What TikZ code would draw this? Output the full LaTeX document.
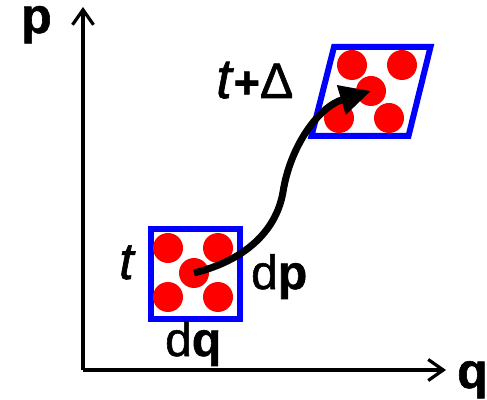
\documentclass[tikz,border=0pt]{standalone}
\usepackage{fontspec}
\setmainfont{Liberation Sans}
\newfontfamily\heavy{Liberation Sans}[FakeBold=1.2,BoldFeatures={FakeBold=1.2},ItalicFeatures={FakeBold=1.2}]
\usetikzlibrary{arrows.meta}
\definecolor{boxblue}{RGB}{0,0,255}
\definecolor{dotred}{RGB}{255,0,0}
\begin{document}
\begin{tikzpicture}[x=1pt,y=1pt,
  axis/.style={line width=3.2pt,-{Straight Barb[length=15pt,width=21pt,line width=3.2pt]}},
  cell/.style={draw=boxblue,line width=6pt,line join=miter},
  dot/.style={circle,fill=dotred,inner sep=0pt,minimum size=30pt},
  flow/.style={line width=7pt,-{Triangle[length=31pt,width=29pt]}},
  lbl/.style={inner sep=0pt,anchor=base west,font=\heavy}]
\useasboundingbox (0,0) rectangle (487,399);
% axes
\coordinate (O) at (83,29);
\coordinate (Ptop) at (83,392);
\coordinate (Qend) at (446,29);
\draw[axis] (O) -- (Ptop);
\draw[axis] (O) -- (Qend);
\node[lbl] (plabel) at (21,366) {\fontsize{50}{50}\selectfont\bfseries p};
\node[lbl] (qlabel) at (457,11) {\fontsize{50}{50}\selectfont\bfseries q};
% lower cell
\draw[cell] (150.5,80) rectangle (240,169.5);
\node[dot] (c1) at (168,151) {};
\node[dot] (c2) at (218,151) {};
\node[dot] (c3) at (194,126) {};
\node[dot] (c4) at (168,102) {};
\node[dot] (c5) at (218,102) {};
% upper cell
\draw[cell] (334,352) -- (430.5,352) -- (408.5,263) -- (311.5,263) -- cycle;
\node[dot] (u1) at (352,334) {};
\node[dot] (u2) at (402,334) {};
\node[dot] (u3) at (371,308) {};
\node[dot] (u4) at (339,281) {};
\node[dot] (u5) at (389,281) {};
% flow arrow
\draw[flow] (c3.center) .. controls (250,140) and (277,172) .. (283,207)
  .. controls (290,252) and (318,292) .. (u3.center);
% labels
\node[lbl] (tlow) at (119,120) {\fontsize{52}{52}\selectfont\itshape t};
\node[lbl] (dp) at (251,110) {\fontsize{48}{48}\selectfont d\textbf{p}};
\node[lbl] (dq) at (165,43) {\fontsize{48}{48}\selectfont d\textbf{q}};
\node[lbl] (tup) at (216,301) {\fontsize{56}{56}\selectfont\itshape t\upshape\fontsize{45}{45}\selectfont\textbf{+}\fontsize{50}{50}\selectfont Δ};
\end{tikzpicture}
\end{document}
